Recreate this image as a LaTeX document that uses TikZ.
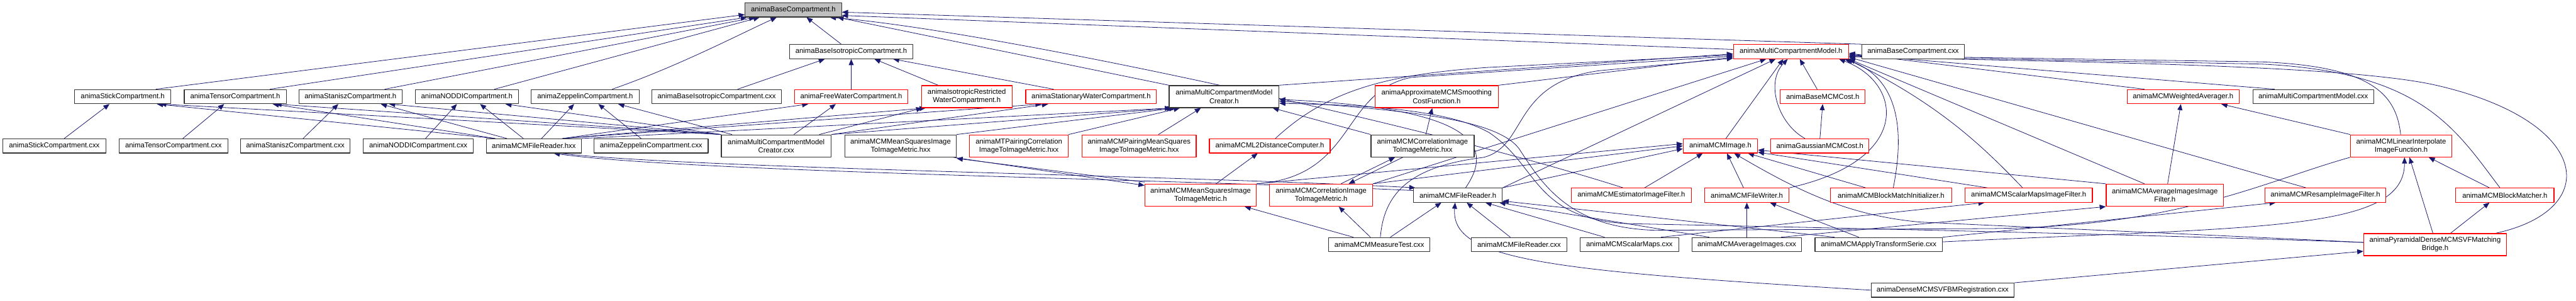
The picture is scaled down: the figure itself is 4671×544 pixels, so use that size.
\documentclass[tikz,border=0pt]{standalone}
\usepackage{fontspec}
\setmainfont{Liberation Sans}
\usetikzlibrary{arrows.meta,backgrounds}
\definecolor{incblue}{HTML}{191970}
\definecolor{basegray}{HTML}{BFBFBF}
\tikzset{
  hdr/.style={draw=black!80, line width=1.4pt, fill=white, inner sep=0pt,
    minimum height=25.5pt, align=center, font={\fontsize{12.9}{15}\selectfont}},
  trunc/.style={hdr, draw=red},
  two/.style={minimum height=40pt},
  incl/.style={->, draw=incblue, line width=0.9pt},
}
\begin{document}
\begin{tikzpicture}[x=1pt, y=1pt, >={Triangle[length=11pt,width=9pt]}, line join=round]
\useasboundingbox (0,0) rectangle (4671,-544);

% rank 0 and 1
\node[hdr, fill=basegray, minimum width=175pt] (base) at (1438.5,-18) {animaBaseCompartment.h};
\node[hdr, minimum width=223pt] (baseisoh) at (1543.5,-93.5) {animaBaseIsotropicCompartment.h};
\node[trunc, minimum width=209pt] (mcmh) at (3247.5,-93.5) {animaMultiCompartmentModel.h};
\node[hdr, minimum width=186pt] (basecxx) at (3469,-93.5) {animaBaseCompartment.cxx};

% rank 2
\node[hdr, minimum width=175pt] (stickh) at (222.5,-175) {animaStickCompartment.h};
\node[hdr, minimum width=185pt] (tensorh) at (426.5,-175) {animaTensorCompartment.h};
\node[hdr, minimum width=187pt] (staniszh) at (635.5,-175) {animaStaniszCompartment.h};
\node[hdr, minimum width=187pt] (noddih) at (846.5,-175) {animaNODDICompartment.h};
\node[hdr, minimum width=196pt] (zeppelinh) at (1061,-175) {animaZeppelinCompartment.h};
\node[hdr, minimum width=235pt] (baseisocxx) at (1299.5,-175) {animaBaseIsotropicCompartment.cxx};
\node[trunc, minimum width=205pt] (freewaterh) at (1543.5,-175) {animaFreeWaterCompartment.h};
\node[trunc, two, minimum width=164pt] (isorwh) at (1753,-175) {animaIsotropicRestricted\\WaterCompartment.h};
\node[trunc, minimum width=237pt] (statwaterh) at (1978.5,-175) {animaStationaryWaterCompartment.h};
\node[hdr, two, minimum width=199pt] (creatorh) at (2219.5,-175) {animaMultiCompartmentModel\\Creator.h};
\node[trunc, two, minimum width=224pt] (approxh) at (2605,-175) {animaApproximateMCMSmoothing\\CostFunction.h};
\node[trunc, minimum width=154pt] (basecosth) at (3305,-175) {animaBaseMCMCost.h};
\node[trunc, minimum width=203pt] (wavgh) at (3958.5,-175) {animaMCMWeightedAverager.h};
\node[hdr, minimum width=219pt] (mcmcxx) at (4194.5,-175) {animaMultiCompartmentModel.cxx};

% rank 3
\node[hdr, minimum width=187pt] (stickcxx) at (98.5,-264.25) {animaStickCompartment.cxx};
\node[hdr, minimum width=197pt] (tensorcxx) at (314.5,-264.25) {animaTensorCompartment.cxx};
\node[hdr, minimum width=199pt] (staniszcxx) at (535.5,-264.25) {animaStaniszCompartment.cxx};
\node[hdr, minimum width=199pt] (noddicxx) at (758.5,-264.25) {animaNODDICompartment.cxx};
\node[hdr, minimum width=172pt] (readerhxx) at (968,-264.25) {animaMCMFileReader.hxx};
\node[hdr, minimum width=207pt] (zeppelincxx) at (1180.5,-264.25) {animaZeppelinCompartment.cxx};
\node[hdr, two, minimum width=199pt] (creatorcxx) at (1407.5,-264.25) {animaMultiCompartmentModel\\Creator.cxx};
\node[hdr, two, minimum width=202pt] (msqhxx) at (1633,-264.25) {animaMCMMeanSquaresImage\\ToImageMetric.hxx};
\node[trunc, two, minimum width=179pt] (mtpairhxx) at (1847.5,-264.25) {animaMTPairingCorrelation\\ImageToImageMetric.hxx};
\node[trunc, two, minimum width=207pt] (mcmpairhxx) at (2065.5,-264.25) {animaMCMPairingMeanSquares\\ImageToImageMetric.hxx};
\node[trunc, minimum width=219pt] (l2h) at (2302.5,-264.25) {animaMCML2DistanceComputer.h};
\node[hdr, two, minimum width=187pt] (corrhxx) at (2579.5,-264.25) {animaMCMCorrelationImage\\ToImageMetric.hxx};
\node[trunc, minimum width=135pt] (mcmimage) at (3119.5,-264.25) {animaMCMImage.h};
\node[trunc, minimum width=178pt] (gausscosth) at (3300,-264.25) {animaGaussianMCMCost.h};
\node[trunc, two, minimum width=184pt] (linterph) at (4354,-264.25) {animaMCMLinearInterpolate\\ImageFunction.h};

% rank 4
\node[trunc, two, minimum width=202pt] (msqh) at (2177,-353.5) {animaMCMMeanSquaresImage\\ToImageMetric.h};
\node[trunc, two, minimum width=187pt] (corrh) at (2395.5,-353.5) {animaMCMCorrelationImage\\ToImageMetric.h};
\node[hdr, minimum width=161pt] (readerh) at (2643.5,-353.5) {animaMCMFileReader.h};
\node[trunc, minimum width=218pt] (estimh) at (2958,-353.5) {animaMCMEstimatorImageFilter.h};
\node[trunc, minimum width=153pt] (writerh) at (3167.5,-353.5) {animaMCMFileWriter.h};
\node[trunc, minimum width=220pt] (bminith) at (3429,-353.5) {animaMCMBlockMatchInitializer.h};
\node[trunc, minimum width=231pt] (scalarfilth) at (3678.5,-353.5) {animaMCMScalarMapsImageFilter.h};
\node[trunc, two, minimum width=213pt] (avgfilth) at (3925.5,-353.5) {animaMCMAverageImagesImage\\Filter.h};
\node[trunc, minimum width=219pt] (resampleh) at (4216.5,-353.5) {animaMCMResampleImageFilter.h};
\node[trunc, minimum width=178pt] (bmatcherh) at (4542,-353.5) {animaMCMBlockMatcher.h};

% rank 5 and 6
\node[hdr, minimum width=184pt] (measuretest) at (2501,-443) {animaMCMMeasureTest.cxx};
\node[hdr, minimum width=173pt] (readercxx) at (2754.5,-443) {animaMCMFileReader.cxx};
\node[hdr, minimum width=179pt] (scalarmapscxx) at (2954.5,-443) {animaMCMScalarMaps.cxx};
\node[hdr, minimum width=199pt] (avgimagescxx) at (3167.5,-443) {animaMCMAverageImages.cxx};
\node[hdr, minimum width=231pt] (applytfcxx) at (3406.5,-443) {animaMCMApplyTransformSerie.cxx};
\node[trunc, two, minimum width=259pt] (pyrh) at (4415.5,-443) {animaPyramidalDenseMCMSVFMatching\\Bridge.h};
\node[hdr, minimum width=259pt] (densecxx) at (3522.5,-525.5) {animaDenseMCMSVFBMRegistration.cxx};

\begin{scope}[on background layer]
% includes of animaBaseCompartment.h
\draw[incl] ([xshift=60pt]stickh.north) -- ([yshift=5pt]base.south west);
\draw[incl] ([xshift=63pt]tensorh.north) -- ([xshift=4pt]base.south west);
\draw[incl] ([xshift=62pt]staniszh.north) -- ([xshift=19pt]base.south west);
\draw[incl] ([xshift=50pt]noddih.north) -- ([xshift=27pt]base.south west);
\draw[incl] ([xshift=49pt]zeppelinh.north) .. controls (1230,-120) and (1345,-60) .. ([xshift=58pt]base.south west);
\draw[incl] ([xshift=-18pt]baseisoh.north) -- ([xshift=24pt]base.south);
\draw[incl] (basecxx.north west) -- ([yshift=-4pt]base.east);
\draw[incl] ([yshift=4pt]mcmh.west) -- ([yshift=-10pt]base.east);
\draw[incl] (creatorh.north west) -- ([xshift=-8pt]base.south east);
\draw[incl] ([xshift=-15pt]estimh.north) .. controls (2600,-230) and (1800,-55) .. ([xshift=-22pt]base.south east);

% isotropic compartments
\draw[incl] ([xshift=38pt]baseisocxx.north) -- ([xshift=-48pt]baseisoh.south);
\draw[incl] (freewaterh.north) -- (baseisoh.south);
\draw[incl] ([xshift=-52pt]isorwh.north) -- ([xshift=42pt]baseisoh.south);
\draw[incl] ([xshift=-68pt]statwaterh.north) -- ([xshift=76pt]baseisoh.south);

% compartment sources
\draw[incl] ([xshift=18pt]stickcxx.north) -- ([xshift=-24pt]stickh.south);
\draw[incl] ([xshift=17pt]tensorcxx.north) -- ([xshift=-20pt]tensorh.south);
\draw[incl] ([xshift=14pt]staniszcxx.north) -- ([xshift=-22pt]staniszh.south);
\draw[incl] ([xshift=13pt]noddicxx.north) -- ([xshift=-18pt]noddih.south);
\draw[incl] ([xshift=-18pt]zeppelincxx.north) -- ([xshift=24pt]zeppelinh.south);

% file reader template
\draw[incl] ([xshift=-70pt]readerhxx.north) -- ([xshift=62pt]stickh.south);
\draw[incl] ([xshift=-70pt]readerhxx.north) -- ([xshift=68pt]tensorh.south);
\draw[incl] ([xshift=-49pt]readerhxx.north) -- ([xshift=55pt]staniszh.south);
\draw[incl] ([xshift=-19pt]readerhxx.north) -- ([xshift=24pt]noddih.south);
\draw[incl] ([xshift=14pt]readerhxx.north) -- ([xshift=-20pt]zeppelinh.south);
\draw[incl] ([xshift=52pt]readerhxx.north) -- ([xshift=-78pt]freewaterh.south);
\draw[incl] ([xshift=52pt]readerhxx.north) -- ([xshift=8pt]isorwh.south west);
\draw[incl] ([xshift=52pt]readerhxx.north) -- ([xshift=-90pt]statwaterh.south);
\draw[incl] (readerhxx.north east) -- ([xshift=4pt]creatorh.south west);

% model creator source
\draw[incl] (creatorcxx.north west) -- ([xshift=68pt]stickh.south);
\draw[incl] (creatorcxx.north west) -- ([xshift=73pt]tensorh.south);
\draw[incl] (creatorcxx.north west) -- ([xshift=70pt]staniszh.south);
\draw[incl] (creatorcxx.north west) -- ([xshift=70pt]noddih.south);
\draw[incl] ([xshift=20pt]creatorcxx.north west) -- ([xshift=60pt]zeppelinh.south);
\draw[incl] ([xshift=32pt]creatorcxx.north) -- ([xshift=-28pt]freewaterh.south);
\draw[incl] ([xshift=78pt]creatorcxx.north) -- ([xshift=2pt]isorwh.south west);
\draw[incl] (creatorcxx.north east) -- ([xshift=-78pt]statwaterh.south);
\draw[incl] (creatorcxx.north east) -- ([xshift=8pt]creatorh.south west);

% model creator header
\draw[incl] (msqhxx.north east) -- ([xshift=12pt]creatorh.south west);
\draw[incl] (mtpairhxx.north east) -- ([xshift=20pt]creatorh.south west);
\draw[incl] ([xshift=35pt]mcmpairhxx.north) -- ([xshift=-42pt]creatorh.south);
\draw[incl] (corrhxx.north west) -- ([xshift=-12pt]creatorh.south east);
\draw[incl] ([xshift=14pt]readerh.north) .. controls (2720,-250) and (2640,-195) .. ([yshift=-5pt]creatorh.east);
\draw[incl] ([yshift=4pt]pyrh.west) .. controls (3900,-425) and (3300,-412) .. (2950,-405)
  .. controls (2780,-395) and (2790,-300) .. (2700,-240)
  .. controls (2620,-195) and (2450,-190) .. ([yshift=-12pt]creatorh.east);
\draw[incl] (linterph.south west) .. controls (4100,-330) and (3950,-412) .. (3600,-414) -- (3000,-417)
  .. controls (2850,-412) and (2800,-340) .. (2755,-270)
  .. controls (2715,-215) and (2550,-200) .. ([yshift=-8pt]creatorh.east);

% multi-compartment model header
\draw[incl] (creatorh.north east) -- ([yshift=-4pt]mcmh.west);
\draw[incl] ([xshift=10pt]l2h.north) .. controls (2400,-170) and (2500,-135) .. (2700,-122) -- ([yshift=-6pt]mcmh.west);
\draw[incl] (msqh.north east) .. controls (2460,-320) and (2430,-165) .. (2560,-140) -- ([yshift=-8pt]mcmh.west);
\draw[incl] (approxh.north east) -- ([yshift=-10pt]mcmh.west);
\draw[incl] ([xshift=2pt]measuretest.north) .. controls (2510,-340) and (2570,-300) .. (2690,-285)
  .. controls (2770,-265) and (2740,-150) .. (2900,-128) -- ([yshift=-12pt]mcmh.west);
\draw[incl] (readerh.north east) -- ([xshift=-28pt]mcmh.south);
\draw[incl] (corrh.north east) -- ([xshift=-45pt]mcmh.south);
\draw[incl] ([xshift=10pt]mcmimage.north) -- ([xshift=-14pt]mcmh.south);
\draw[incl] ([xshift=-27pt]gausscosth.north) .. controls (3225,-225) and (3200,-150) .. ([xshift=-6pt]mcmh.south);
\draw[incl] ([xshift=-10pt]basecosth.north) -- ([xshift=16pt]mcmh.south);
\draw[incl] (gausscosth.north) -- (basecosth.south);
\draw[incl] (writerh.north east) .. controls (3470,-290) and (3450,-150) .. ([xshift=-18pt]mcmh.south east);
\draw[incl] ([xshift=4pt]bminith.north) .. controls (3455,-230) and (3440,-140) .. ([xshift=-8pt]mcmh.south east);
\draw[incl] ([xshift=-70pt]wavgh.north) -- ([yshift=-3pt]mcmh.east);
\draw[incl] ([xshift=-70pt]mcmcxx.north) -- ([yshift=-5pt]mcmh.east);
\draw[incl] ([xshift=-35pt]resampleh.north) -- ([yshift=-10pt]mcmh.east);
\draw[incl] ([xshift=-37pt]avgfilth.north) -- (mcmh.south east);
\draw[incl] ([xshift=-11pt]scalarfilth.north) .. controls (3600,-270) and (3520,-190) .. ([xshift=-4pt]mcmh.south east);
\draw[incl] ([xshift=-1pt]linterph.north) .. controls (4345,-170) and (4300,-120) .. (4100,-112) -- ([yshift=-7pt]mcmh.east);
\draw[incl] ([xshift=-9pt]bmatcherh.north) .. controls (4450,-230) and (4390,-130) .. (4100,-116) -- ([yshift=-8pt]mcmh.east);
\draw[incl] ([xshift=110pt]pyrh.north) .. controls (4720,-380) and (4700,-220) .. (4420,-155)
  .. controls (4250,-115) and (3700,-112) .. ([yshift=-9pt]mcmh.east);

% MCM image header
\draw[incl] (msqh.north east) -- ([yshift=4pt]mcmimage.west);
\draw[incl] (corrh.north east) -- (mcmimage.west);
\draw[incl] (readerh.north east) -- ([yshift=-5pt]mcmimage.west);
\draw[incl] ([xshift=24pt]estimh.north) -- ([xshift=-32pt]mcmimage.south);
\draw[incl] ([xshift=-6pt]writerh.north) -- ([xshift=12pt]mcmimage.south);
\draw[incl] ([xshift=-46pt]bminith.north) -- ([xshift=50pt]mcmimage.south);
\draw[incl] ([xshift=-75pt]scalarfilth.north) -- ([yshift=2pt]mcmimage.south east);
\draw[incl] (avgfilth.north west) -- ([yshift=6pt]mcmimage.south east);
\draw[incl] ([yshift=4pt]pyrh.west) .. controls (4000,-425) and (3600,-408) .. (3480,-402)
  .. controls (3350,-390) and (3260,-345) .. ([xshift=25pt]mcmimage.south);

% MCM file reader header
\draw[incl] ([xshift=48pt]readerhxx.south) .. controls (1250,-305) and (2150,-318) .. ([xshift=4pt]readerh.north west);
\draw[incl] ([yshift=-5pt]readerh.north west) .. controls (2150,-325) and (1250,-312) .. ([xshift=36pt]readerhxx.south);
\draw[incl] ([xshift=20pt]measuretest.north) -- ([xshift=-30pt]readerh.south);
\draw[incl] ([xshift=-16pt]readercxx.north) -- ([xshift=16pt]readerh.south);
\draw[incl] (densecxx.west) .. controls (2800,-490) and (2630,-470) .. ([xshift=-5pt]readerh.south);
\draw[incl] ([xshift=-45pt]scalarmapscxx.north) -- ([xshift=50pt]readerh.south);
\draw[incl] ([xshift=32pt]avgimagescxx.north west) -- ([xshift=-6pt]readerh.south east);
\draw[incl] ([xshift=-80pt]applytfcxx.north) -- ([yshift=3pt]readerh.south east);

% MCM file writer header
\draw[incl] (avgimagescxx.north) -- (writerh.south);
\draw[incl] ([xshift=-36pt]applytfcxx.north) -- ([xshift=42pt]writerh.south);

% metrics
\draw[incl] ([xshift=6pt]corrhxx.north) -- ([xshift=-8pt]approxh.south);
\draw[incl] ([xshift=28pt]msqh.north) -- ([xshift=-22pt]l2h.south);
\draw[incl] ([xshift=-6pt]msqhxx.south east) -- ([yshift=-3pt]msqh.north west);
\draw[incl] ([yshift=3pt]msqh.north west) -- ([yshift=-2pt]msqhxx.south east);
\draw[incl] ([xshift=36pt]corrh.north) -- ([xshift=-50pt]corrhxx.south);
\draw[incl] ([xshift=-36pt]corrhxx.south) -- ([xshift=50pt]corrh.north);
\draw[incl] ([xshift=-47pt]measuretest.north) -- ([xshift=80pt]msqh.south);
\draw[incl] ([xshift=-16pt]measuretest.north) -- ([xshift=32pt]corrh.south);

% filters and registration
\draw[incl] ([xshift=57pt]scalarmapscxx.north) -- ([xshift=-80pt]scalarfilth.south);
\draw[incl] ([xshift=62pt]avgimagescxx.north) -- (avgfilth.south west);
\draw[incl] ([xshift=5pt]avgfilth.north) -- ([xshift=-4pt]wavgh.south);
\draw[incl] (linterph.north west) -- ([xshift=-33pt]wavgh.south east);
\draw[incl] ([xshift=-4pt]pyrh.north) -- ([xshift=15pt]linterph.south);
\draw[incl] ([xshift=-28pt]bmatcherh.north) -- ([xshift=50pt]linterph.south);
\draw[incl] ([yshift=5pt]applytfcxx.east) .. controls (4100,-410) and (4360,-420) .. ([xshift=6pt]linterph.south);
\draw[incl] ([xshift=28pt]pyrh.north) -- ([xshift=-28pt]bmatcherh.south);
\draw[incl] (densecxx.north east) -- ([yshift=-12pt]pyrh.west);
\draw[incl] (applytfcxx.north east) -- ([xshift=20pt]resampleh.south west);
\end{scope}
\end{tikzpicture}
\end{document}
